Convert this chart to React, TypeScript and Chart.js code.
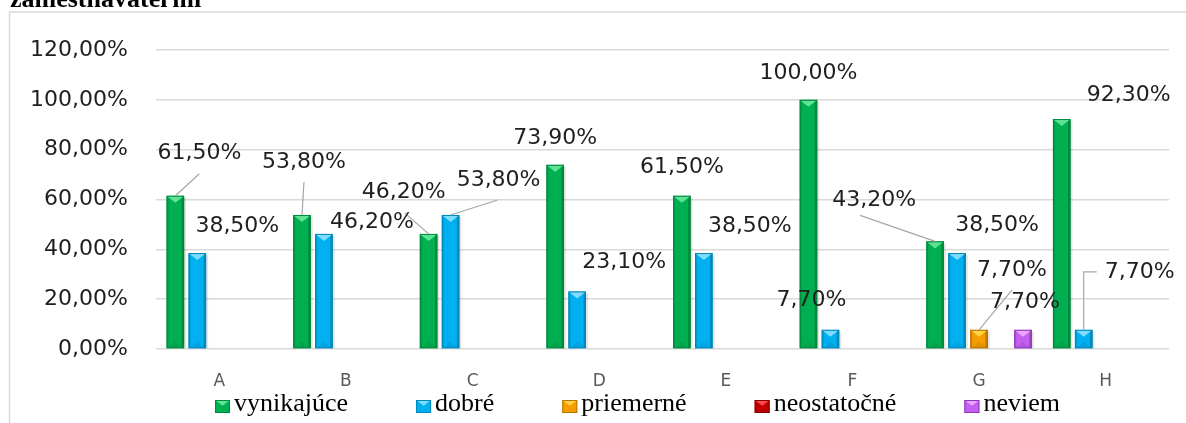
import React, { useEffect, useRef } from 'react';
import { Chart, registerables } from 'chart.js';

Chart.register(...registerables);

// ---------- data ----------
const categories = ['A', 'B', 'C', 'D', 'E', 'F', 'G', 'H'];
const vynikajuce = [61.5, 53.8, 46.2, 73.9, 61.5, 100, 43.2, 92.3];
const dobre = [38.5, 46.2, 53.8, 23.1, 38.5, 7.7, 38.5, 7.7];
const priemerne = [null, null, null, null, null, null, 7.7, null];
const neostatocne = [null, null, null, null, null, null, null, null];
const neviem = [null, null, null, null, null, null, 7.7, null];
const seriesNames = ['vynikajúce', 'dobré', 'priemerné', 'neostatočné', 'neviem'];
const yTicks = [0, 20, 40, 60, 80, 100, 120];
const yTickLabels = ['0,00%', '20,00%', '40,00%', '60,00%', '80,00%', '100,00%', '120,00%'];
const titleText = 'zamestnávateľmi';

// ---------- styling ----------
const palette = [
  { base: '#00b050', dark: '#008a3e', light: '#5ee394' },
  { base: '#00b0f0', dark: '#0088bb', light: '#7fdcff' },
  { base: '#f59d00', dark: '#b87400', light: '#ffd24a' },
  { base: '#c00000', dark: '#800000', light: '#ff4a4a' },
  { base: '#c45ff0', dark: '#8e36b8', light: '#eaa6ff' },
];

// label centre offsets from the top-centre of each bar (px), and optional leader-line points
type Lay = { d: [number, number]; line?: [number, number][] } | null;
const labelLayouts: Lay[][] = [
  [
    { d: [24, -42], line: [[24, -22]] },
    { d: [2, -53], line: [[2, -33]] },
    { d: [-25, -42], line: [[-24, -21]] },
    { d: [0, -27] },
    { d: [0, -28] },
    { d: [0, -27] },
    { d: [-61, -41], line: [[-75, -26]] },
    { d: [67, -24] },
  ],
  [
    { d: [40, -27] },
    { d: [48, -12] },
    { d: [48, -35], line: [[47, -15]] },
    { d: [47, -29] },
    { d: [46, -27] },
    { d: [-19, -30] },
    { d: [40, -28] },
    { d: [56, -58], line: [[0, -58], [13, -58]] },
  ],
  [null, null, null, null, null, null, { d: [33, -60], line: [[33, -40]] }, null],
  [null, null, null, null, null, null, null, null],
  [null, null, null, null, null, null, { d: [2, -28] }, null],
];

const fmt = (v: number) => v.toFixed(2).replace('.', ',') + '%';

function drawBevel(ctx: CanvasRenderingContext2D, left: number, top: number, w: number, h: number, c: any) {
  if (h <= 0) return;
  const right = left + w;
  const cx = left + w / 2;
  ctx.save();
  ctx.fillStyle = 'rgba(0,0,0,0.10)';
  ctx.fillRect(right, top + 2, 2, h - 2);
  ctx.fillStyle = 'rgba(0,0,0,0.12)';
  ctx.fillRect(left, top, 2, h);
  ctx.fillStyle = 'rgba(0,0,0,0.22)';
  ctx.fillRect(right - 2.5, top, 2.5, h);
  const d = Math.min(w * 0.4, h / 2);
  ctx.beginPath();
  ctx.moveTo(left + 1, top + h);
  ctx.lineTo(right - 1, top + h);
  ctx.lineTo(cx, top + h - d);
  ctx.closePath();
  ctx.fillStyle = 'rgba(0,0,0,0.07)';
  ctx.fill();
  ctx.beginPath();
  ctx.moveTo(left + 0.5, top + 0.5);
  ctx.lineTo(right - 0.5, top + 0.5);
  ctx.lineTo(cx, top + d);
  ctx.closePath();
  ctx.fillStyle = c.light;
  ctx.fill();
  ctx.strokeStyle = c.dark;
  ctx.lineWidth = 1;
  ctx.strokeRect(left + 0.5, top + 0.5, w - 1, h - 1);
  ctx.restore();
}

function drawLegendBox(ctx: CanvasRenderingContext2D, x: number, y: number, w: number, h: number, c: any) {
  ctx.save();
  ctx.fillStyle = c.base;
  ctx.fillRect(x, y, w, h);
  ctx.beginPath();
  ctx.moveTo(x, y);
  ctx.lineTo(x + w, y);
  ctx.lineTo(x + w / 2, y + h * 0.45);
  ctx.closePath();
  ctx.fillStyle = c.light;
  ctx.fill();
  ctx.strokeStyle = c.dark;
  ctx.lineWidth = 1;
  ctx.strokeRect(x + 0.5, y + 0.5, w - 1, h - 1);
  ctx.restore();
}

const decorPlugin = {
  id: 'decor',
  beforeDraw(chart: any) {
    const ctx = chart.ctx;
    ctx.save();
    ctx.strokeStyle = '#d9d9d9';
    ctx.lineWidth = 1.5;
    ctx.beginPath();
    ctx.moveTo(9.5, chart.height + 2);
    ctx.lineTo(9.5, 12);
    ctx.lineTo(chart.width + 2, 12);
    ctx.stroke();
    ctx.fillStyle = '#000';
    ctx.font = 'bold 26px "Liberation Serif"';
    ctx.textBaseline = 'alphabetic';
    ctx.textAlign = 'left';
    ctx.fillText(titleText, 10, 7);
    ctx.restore();
  },
  afterDatasetsDraw(chart: any) {
    const ctx = chart.ctx;
    chart.data.datasets.forEach((ds: any, di: number) => {
      const meta = chart.getDatasetMeta(di);
      meta.data.forEach((bar: any, i: number) => {
        if (ds.data[i] == null) return;
        const p = bar.getProps(['x', 'y', 'base', 'width'], true);
        drawBevel(ctx, p.x - p.width / 2, p.y, p.width, p.base - p.y, palette[di]);
      });
    });
    ctx.save();
    ctx.font = '22px "DejaVu Sans"';
    ctx.textAlign = 'center';
    ctx.textBaseline = 'middle';
    chart.data.datasets.forEach((ds: any, di: number) => {
      const meta = chart.getDatasetMeta(di);
      meta.data.forEach((bar: any, i: number) => {
        const v = ds.data[i];
        const lay = labelLayouts[di][i];
        if (v == null || !lay) return;
        const p = bar.getProps(['x', 'y'], true);
        if (lay.line) {
          ctx.strokeStyle = '#a6a6a6';
          ctx.lineWidth = 1.2;
          ctx.beginPath();
          ctx.moveTo(p.x, p.y);
          lay.line.forEach(([lx, ly]) => ctx.lineTo(p.x + lx, p.y + ly));
          ctx.stroke();
        }
        ctx.fillStyle = '#1f1f1f';
        ctx.fillText(fmt(v), p.x + lay.d[0], p.y + lay.d[1]);
      });
    });
    ctx.restore();
  },
  afterDraw(chart: any) {
    const ctx = chart.ctx;
    const hb = chart.legend?.legendHitBoxes || [];
    hb.forEach((b: any, i: number) => {
      drawLegendBox(ctx, b.left + 68, b.top + 9, 15, 13, palette[i]);
    });
  },
};

export default function App() {
  const ref = useRef<HTMLCanvasElement | null>(null);
  useEffect(() => {
    if (!ref.current) return;
    const seriesData = [vynikajuce, dobre, priemerne, neostatocne, neviem];
    const chart = new Chart(ref.current, {
      type: 'bar',
      data: {
        labels: categories,
        datasets: seriesData.map((d, i) => ({
          label: seriesNames[i],
          data: d as any,
          backgroundColor: palette[i].base,
          borderWidth: 0,
          barPercentage: 0.8,
          categoryPercentage: 0.868,
        })),
      },
      options: {
        responsive: false,
        animation: false,
        devicePixelRatio: 1,
        layout: { padding: { left: 147, right: 17, top: 50, bottom: 0 } },
        plugins: {
          tooltip: { enabled: false },
          title: { display: false },
          legend: {
            position: 'bottom',
            align: 'start',
            maxHeight: 32,
            onClick: () => {},
            labels: {
              boxWidth: 74,
              boxHeight: 1,
              padding: 0,
              color: '#000',
              font: { family: 'Liberation Serif', size: 26 },
              generateLabels: () =>
                seriesNames.map((n, i) => ({
                  text: n,
                  fillStyle: 'rgba(0,0,0,0)',
                  strokeStyle: 'rgba(0,0,0,0)',
                  lineWidth: 0,
                  hidden: false,
                  datasetIndex: i,
                  fontColor: '#000',
                })),
            },
          },
        },
        scales: {
          x: {
            grid: { display: false, drawTicks: false },
            border: { display: false },
            ticks: {
              color: '#595959',
              font: { family: 'DejaVu Sans', size: 17 },
              padding: 22,
            },
            afterFit: (s: any) => {
              s.height = 42;
            },
          },
          y: {
            min: 0,
            max: 120,
            grid: { color: '#d9d9d9', lineWidth: 1.5, drawTicks: false },
            border: { display: false },
            afterBuildTicks: (s: any) => {
              s.ticks = yTicks.map((v) => ({ value: v }));
            },
            ticks: {
              color: '#1f1f1f',
              font: { family: 'DejaVu Sans', size: 22 },
              mirror: true,
              crossAlign: 'far',
              padding: -126,
              callback: (v: any) => yTickLabels[yTicks.indexOf(Number(v))],
            },
            afterFit: (s: any) => {
              s.width = 9;
            },
          },
        },
      },
      plugins: [decorPlugin],
    });
    return () => chart.destroy();
  }, []);
  return (
    <div style={{ position: 'fixed', left: 0, top: 0, width: 1186, height: 423, overflow: 'hidden', background: '#fff' }}>
      <canvas ref={ref} width={1186} height={423} style={{ display: 'block' }} />
    </div>
  );
}
